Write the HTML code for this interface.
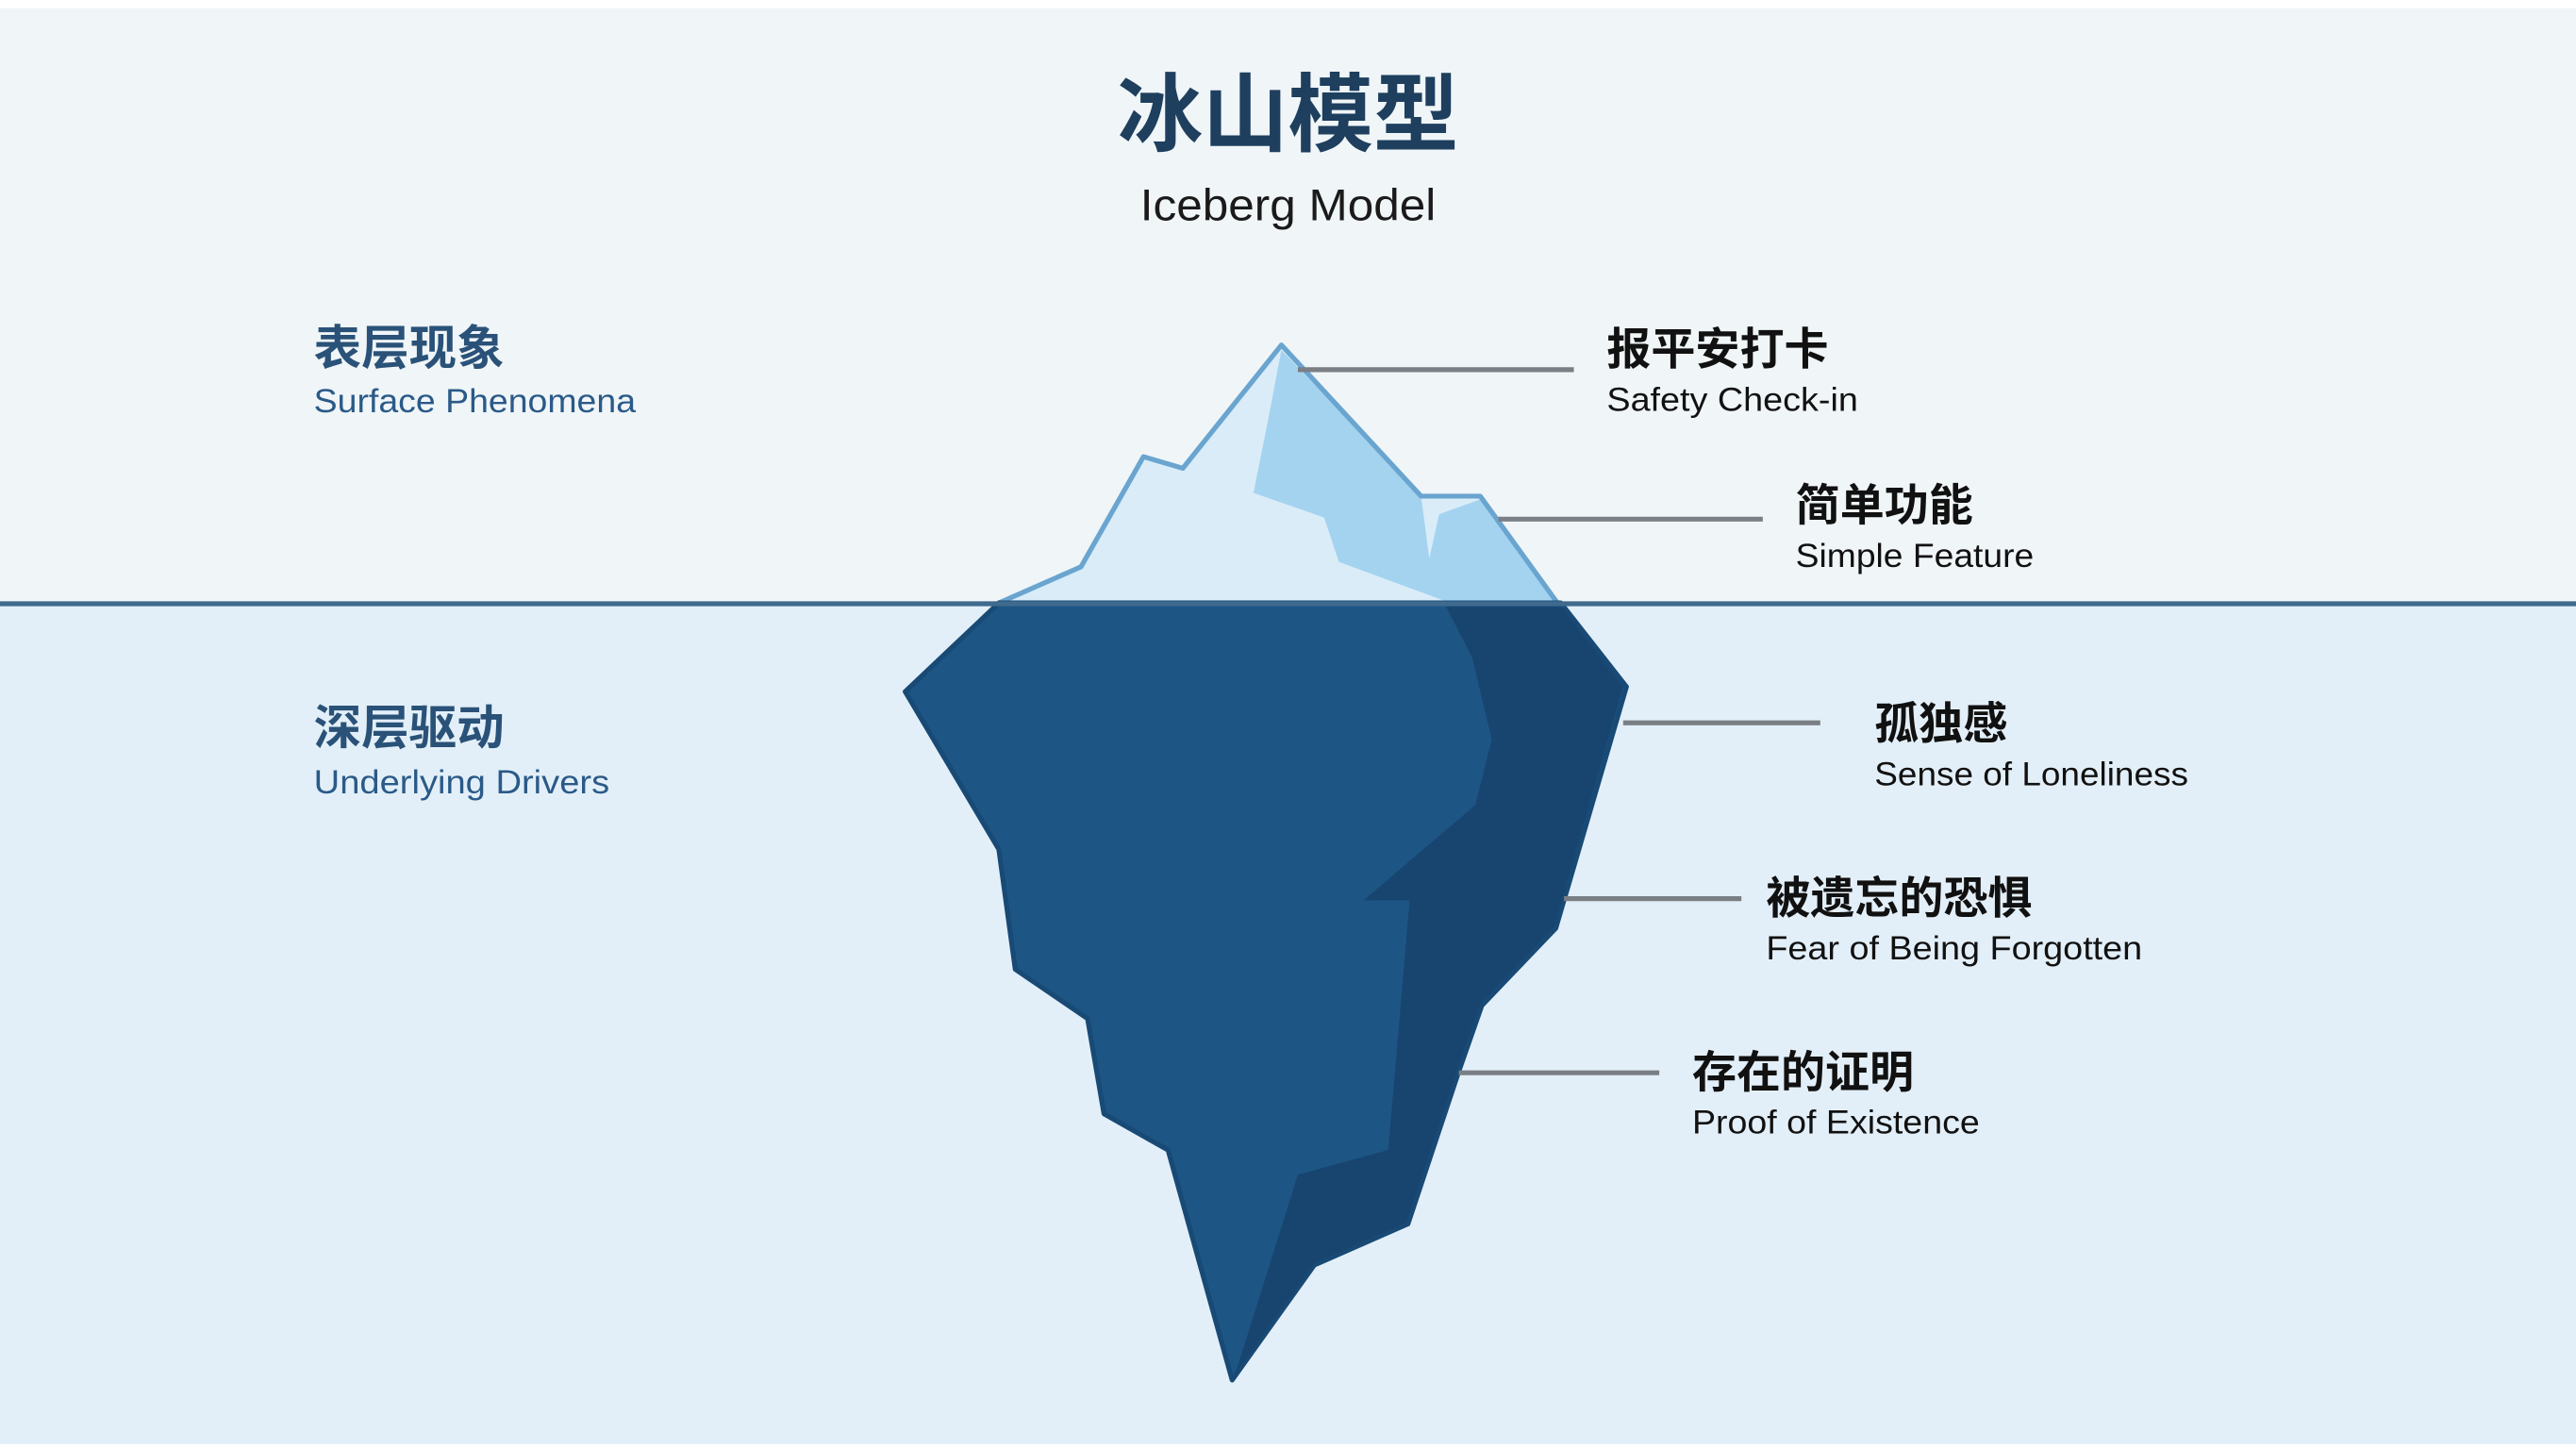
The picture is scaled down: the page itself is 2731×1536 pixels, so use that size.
<!DOCTYPE html>
<html><head><meta charset="utf-8"><style>
html,body{margin:0;padding:0;width:2731px;height:1536px;overflow:hidden;background:#fff}
svg{display:block}
text{font-family:"Liberation Sans","Noto Sans CJK SC",sans-serif}
</style></head><body>
<svg width="2731" height="1536" viewBox="0 0 1568 882" preserveAspectRatio="none" xmlns="http://www.w3.org/2000/svg">
<rect x="0" y="0" width="1568" height="882" fill="#ffffff"/>
<rect x="0" y="5" width="1568" height="362" fill="#f0f5f8"/>
<rect x="0" y="367" width="1568" height="512" fill="#e3eff8"/>
<!-- tip -->
<polygon points="608,367 658,345 696,278 720,285 780,210 865,302 901,302 948,367" fill="#d9ecf8"/>
<polygon points="780,213 865,302 870,340 876,313 901,304 946,366 880,366 815,342 806,315 763,300 772,255" fill="#a4d3f0"/>
<polygon points="608,367 658,345 696,278 720,285 780,210 865,302 901,302 948,367" fill="none" stroke="#6aa5d0" stroke-width="3" stroke-linejoin="round"/>
<!-- underwater -->
<polygon points="608,367 551,421 608,517 618,590 662,620 672,678 711,700 750,840 800,770 857,745 888,652 902,612 947,565 990,418 950,367" fill="#1d5685" stroke="#184a75" stroke-width="3" stroke-linejoin="round"/>
<polygon points="880,369 950,369 988,418 946,564 901,611 887,651 856,744 800,769 752,836 790,715 845,700 858,548 830,548 898,490 908,450 896,400" fill="#184570"/>
<line x1="0" y1="367.5" x2="1568" y2="367.5" stroke="#3f6a8e" stroke-width="3"/>
<!-- connectors -->
<g stroke="#7a7f85" stroke-width="3">
<line x1="790" y1="225" x2="958" y2="225"/>
<line x1="912" y1="316" x2="1073" y2="316"/>
<line x1="988" y1="440" x2="1108" y2="440"/>
<line x1="952" y1="547" x2="1060" y2="547"/>
<line x1="888" y1="653" x2="1010" y2="653"/>
</g>
<!-- title -->
<text x="784" y="88" text-anchor="middle" font-size="52" font-weight="bold" fill="#1e3f5e">冰山模型</text>
<text x="694" y="134" font-size="27" fill="#1a1a1a" textLength="180" lengthAdjust="spacingAndGlyphs">Iceberg Model</text>
<!-- left -->
<text x="191" y="222" font-size="29" font-weight="bold" fill="#2a5278">表层现象</text>
<text x="191" y="251" font-size="20" fill="#2a5a88" textLength="196" lengthAdjust="spacingAndGlyphs">Surface Phenomena</text>
<text x="191" y="453" font-size="29" font-weight="bold" fill="#2a5278">深层驱动</text>
<text x="191" y="483" font-size="20" fill="#2a5a88" textLength="180" lengthAdjust="spacingAndGlyphs">Underlying Drivers</text>
<!-- right -->
<g fill="#111">
<text x="978" y="222" font-size="27" font-weight="bold">报平安打卡</text>
<text x="978" y="250" font-size="20" textLength="153" lengthAdjust="spacingAndGlyphs">Safety Check-in</text>
<text x="1093" y="317" font-size="27" font-weight="bold">简单功能</text>
<text x="1093" y="345" font-size="20" textLength="145" lengthAdjust="spacingAndGlyphs">Simple Feature</text>
<text x="1141" y="450" font-size="27" font-weight="bold">孤独感</text>
<text x="1141" y="478" font-size="20" textLength="191" lengthAdjust="spacingAndGlyphs">Sense of Loneliness</text>
<text x="1075" y="556" font-size="27" font-weight="bold">被遗忘的恐惧</text>
<text x="1075" y="584" font-size="20" textLength="229" lengthAdjust="spacingAndGlyphs">Fear of Being Forgotten</text>
<text x="1030" y="662" font-size="27" font-weight="bold">存在的证明</text>
<text x="1030" y="690" font-size="20" textLength="175" lengthAdjust="spacingAndGlyphs">Proof of Existence</text>
</g>
</svg>
</body></html>
